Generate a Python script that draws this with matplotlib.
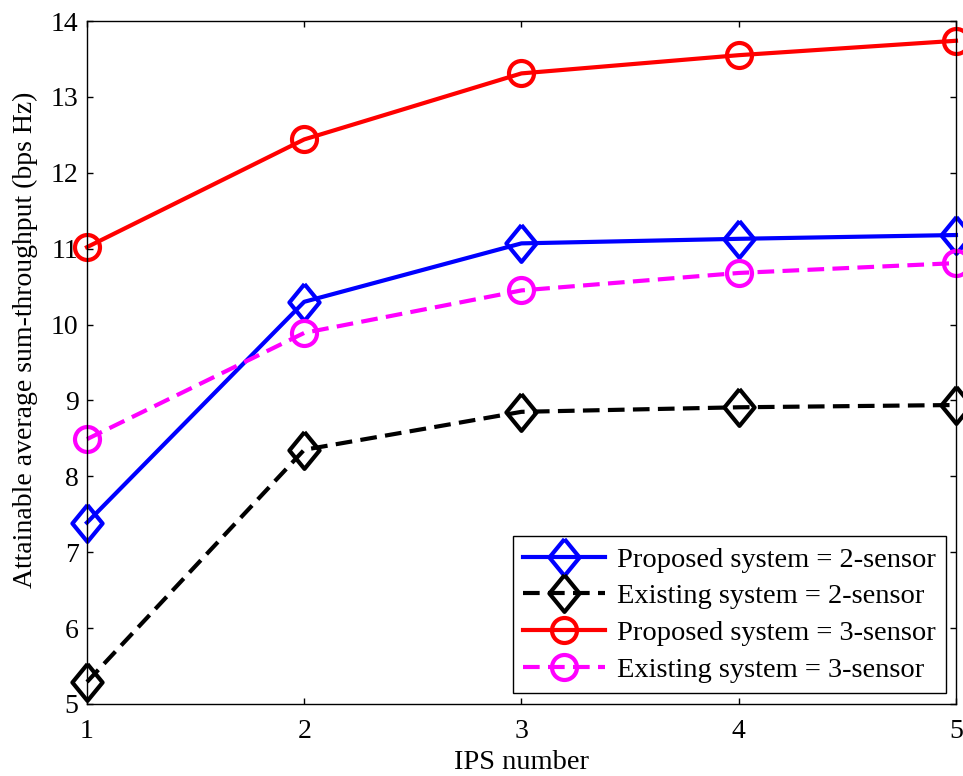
import matplotlib
matplotlib.use('Agg')
import matplotlib.pyplot as plt

# data
ips = [1, 2, 3, 4, 5]
proposed_2 = [7.39, 10.30, 11.07, 11.13, 11.18]
existing_2 = [5.29, 8.35, 8.85, 8.91, 8.94]
proposed_3 = [11.02, 12.44, 13.31, 13.55, 13.74]
existing_3 = [8.49, 9.89, 10.45, 10.68, 10.81]

plt.rcParams['font.family'] = ['Liberation Serif', 'DejaVu Serif']

# MATLAB-like diamond, a bit taller than wide
diamond = [(0, 1), (0.82, 0), (0, -1), (-0.82, 0), (0, 1)]

fig = plt.figure(figsize=(9.63, 7.76), dpi=100)
ax = fig.add_axes([0.0903, 0.0928, 0.9024, 0.8801])

series = [
    (proposed_2, 'b', '-', diamond, 'Proposed system = 2-sensor'),
    (existing_2, 'k', (0, (4, 2)), diamond, 'Existing system = 2-sensor'),
    (proposed_3, 'r', '-', 'o', 'Proposed system = 3-sensor'),
    (existing_3, '#ff00ff', (0, (4, 2)), 'o', 'Existing system = 3-sensor'),
]
for vals, col, ls, mk, lab in series:
    ms = 26.5 if mk is diamond else 18
    ax.plot(ips, vals, color=col, linestyle=ls, linewidth=3, marker=mk,
            markersize=ms, markerfacecolor='none', markeredgecolor=col,
            markeredgewidth=3, label=lab, clip_on=False)

ax.set_xlim(1, 5)
ax.set_ylim(5, 14)
ax.set_xticks(ips)
ax.set_yticks(range(5, 15))
ax.tick_params(direction='in', length=4, width=1, top=True, right=True,
               labelsize=20)
ax.tick_params(axis='x', pad=11)
ax.tick_params(axis='y', pad=6)
for sp in ax.spines.values():
    sp.set_linewidth(1)

ax.set_xlabel('IPS number', fontsize=20.5)
ax.xaxis.set_label_coords(0.5, -0.068)
ax.set_ylabel('Attainable average sum-throughput (bps Hz)', fontsize=20)
ax.yaxis.set_label_coords(-0.056, 0.533)

leg = ax.legend(loc='lower right', bbox_to_anchor=(0.9885, 0.016), borderaxespad=0,
                fontsize=20.5, handlelength=2.9, handletextpad=0.4, labelspacing=0.38,
                borderpad=0.36, fancybox=False, edgecolor='k', framealpha=1)
leg.get_frame().set_linewidth(1)

fig.savefig('out.png', dpi=100)
